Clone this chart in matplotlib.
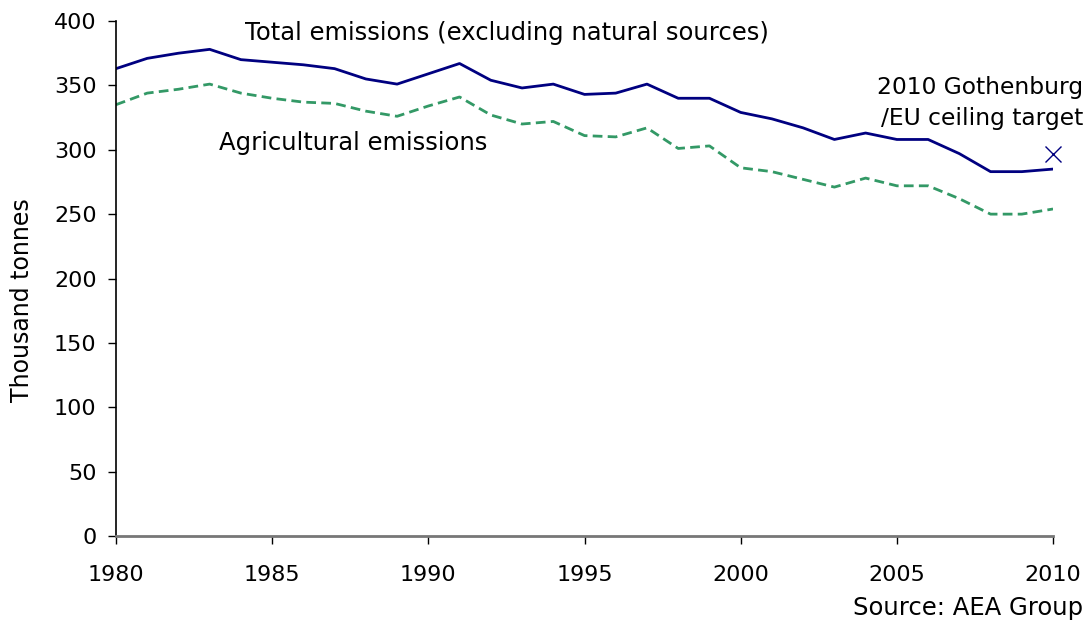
import matplotlib.pyplot as plt

years = list(range(1980, 2011))
total = [363, 371, 375, 378, 370, 368, 366, 363, 355, 351,
         359, 367, 354, 348, 351, 343, 344, 351, 340, 340,
         329, 324, 317, 308, 313, 308, 308, 297, 283, 283, 285]
agri = [335, 344, 347, 351, 344, 340, 337, 336, 330, 326,
        334, 341, 327, 320, 322, 311, 310, 317, 301, 303,
        286, 283, 277, 271, 278, 272, 272, 262, 250, 250, 254]
target_year = 2010
target_value = 297

plt.rcParams['font.family'] = 'DejaVu Sans'
plt.rcParams['font.size'] = 16

fig = plt.figure(figsize=(10.91, 6.22), dpi=100)
ax = fig.add_axes([0.1063, 0.1383, 0.8589, 0.8279])

ax.plot(years, total, color='#000080', linewidth=2)
ax.plot(years, agri, color='#339966', linewidth=2, linestyle=(0, (3.5, 1.9)))
ax.plot([target_year], [target_value], marker='x', color='#000080',
        markersize=11, markeredgewidth=1.0, linestyle='none', clip_on=False)

ax.set_xlim(1980, 2010)
ax.set_ylim(0, 400)
ax.set_xticks(range(1980, 2011, 5))
ax.set_yticks(range(0, 401, 50))

for side in ['top', 'right']:
    ax.spines[side].set_visible(False)
ax.spines['left'].set_color('black')
ax.spines['left'].set_linewidth(1.2)
ax.spines['bottom'].set_color('#777777')
ax.spines['bottom'].set_linewidth(2)
ax.tick_params(axis='y', direction='out', length=6, width=1, color='black', pad=8)
ax.tick_params(axis='x', direction='out', length=6, width=1, color='black', pad=15)

ax.set_ylabel('Thousand tonnes', fontsize=17)
ax.yaxis.set_label_coords(-0.087, 0.458)

ax.text(1984.13, 391, 'Total emissions (excluding natural sources)',
        ha='left', va='center', fontsize=17.5)
ax.text(1983.3, 305, 'Agricultural emissions', ha='left', va='center', fontsize=17.5)
ax.text(2010.96, 336, '2010 Gothenburg\n/EU ceiling target', ha='right',
        va='center', fontsize=16.8, linespacing=1.45, clip_on=False)

fig.text(0.993, 0.022, 'Source: AEA Group', ha='right', va='center', fontsize=17.5)

fig.savefig('out.png', dpi=100)
